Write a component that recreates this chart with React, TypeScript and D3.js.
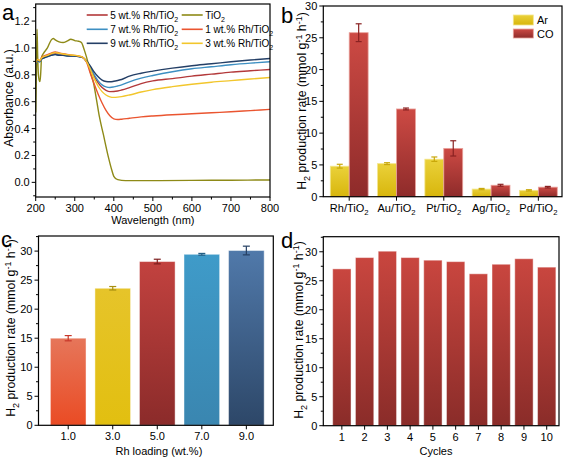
import React from "react";
import * as d3 from "d3";

// ---------- Panel a data ----------
const wavelengths = [200,205,210,215,220,230,240,250,260,270,280,290,300,310,320,330,340,350,360,370,380,390,400,410,420,440,470,500,550,600,650,700,750,800];
const rh9 = [0.89,0.91,0.90,0.92,0.925,0.935,0.945,0.95,0.945,0.945,0.94,0.94,0.94,0.935,0.93,0.905,0.865,0.82,0.785,0.76,0.75,0.748,0.752,0.758,0.765,0.79,0.812,0.828,0.85,0.868,0.882,0.897,0.91,0.922];
const rh7 = [0.88,0.905,0.895,0.915,0.925,0.935,0.945,0.952,0.947,0.945,0.942,0.94,0.94,0.935,0.93,0.90,0.855,0.80,0.755,0.725,0.71,0.706,0.71,0.717,0.725,0.748,0.775,0.795,0.823,0.845,0.86,0.875,0.887,0.897];
const rh5 = [0.885,0.91,0.9,0.92,0.93,0.94,0.95,0.958,0.952,0.948,0.945,0.943,0.942,0.937,0.93,0.90,0.85,0.79,0.74,0.705,0.685,0.675,0.676,0.68,0.687,0.705,0.735,0.755,0.772,0.79,0.805,0.82,0.83,0.84];
const rh3 = [0.89,0.915,0.905,0.925,0.935,0.945,0.958,0.965,0.96,0.955,0.95,0.948,0.945,0.94,0.932,0.90,0.84,0.77,0.715,0.675,0.65,0.636,0.632,0.634,0.638,0.65,0.672,0.69,0.712,0.73,0.745,0.757,0.769,0.78];
const rh1 = [0.89,0.915,0.905,0.93,0.94,0.95,0.962,0.97,0.963,0.957,0.952,0.948,0.945,0.94,0.932,0.895,0.81,0.73,0.655,0.59,0.535,0.495,0.472,0.468,0.47,0.477,0.487,0.494,0.503,0.51,0.518,0.525,0.534,0.543];
const tio2Wavelengths = [200,202,203.5,205,207,209,211,213,215,220,230,240,245,250,260,270,280,290,300,310,317,325,335,340,348,356,363,373,386,395,400,410,430,500,600,700,800];
const tio2 = [0.52,0.85,1.14,0.95,0.8,0.76,0.75,0.82,0.93,0.96,1.0,1.06,1.07,1.06,1.045,1.04,1.05,1.065,1.055,1.05,1.04,0.98,0.88,0.82,0.74,0.61,0.49,0.36,0.19,0.09,0.045,0.02,0.013,0.013,0.015,0.016,0.018];
const xTicksA = [200,300,400,500,600,700,800];
const yTicksA = [0.0,0.2,0.4,0.6,0.8,1.0,1.2];

// ---------- Panel b data ----------
const metals = ["Rh","Au","Pt","Ag","Pd"];
const arValues = [4.8,5.2,5.9,1.2,1.0];
const arErrors = [0.3,0.15,0.35,0.1,0.1];
const coValues = [25.8,13.8,7.6,1.8,1.5];
const coErrors = [1.4,0.15,1.2,0.15,0.12];
const yTicksB = [0,5,10,15,20,25,30];

// ---------- Panel c data ----------
const loadings = [1,3,5,7,9];
const loadingLabels = ["1.0","3.0","5.0","7.0","9.0"];
const cValues = [15.0,23.6,28.2,29.45,30.1];
const cErrors = [0.45,0.3,0.4,0.15,0.75];
const yTicksCD = [0,5,10,15,20,25,30];

// ---------- Panel d data ----------
const cycles = [1,2,3,4,5,6,7,8,9,10];
const dValues = [27.05,29.0,30.1,29.0,28.55,28.3,26.2,27.85,28.8,27.35];

const FONT = "'Liberation Sans', Arial, Helvetica, sans-serif";

function range(a: number, b: number, s: number) {
  const out: number[] = [];
  for (let v = a; v <= b + 1e-9; v += s) out.push(+v.toFixed(4));
  return out;
}

function Box({ x0, x1, y0, y1 }: any) {
  return <rect x={x0} y={y0} width={x1 - x0} height={y1 - y0} fill="none" stroke="#000" strokeWidth={1.2} />;
}

function YAxis({ scale, x, ticks, minor, fmt }: any) {
  return (
    <g>
      {minor.map((t: number) => (
        <line key={"m" + t} x1={x - 2.5} x2={x} y1={scale(t)} y2={scale(t)} stroke="#000" strokeWidth={1} />
      ))}
      {ticks.map((t: number) => (
        <g key={t}>
          <line x1={x - 4} x2={x} y1={scale(t)} y2={scale(t)} stroke="#000" strokeWidth={1} />
          <text x={x - 6} y={scale(t)} dy="0.36em" textAnchor="end" fontSize={11}>{fmt(t)}</text>
        </g>
      ))}
    </g>
  );
}

function TiO2Label({ x, y, prefix, anchor = "middle", fs = 11 }: any) {
  return (
    <text x={x} y={y} textAnchor={anchor} fontSize={fs}>
      {prefix}TiO<tspan fontSize={fs * 0.7} dy={fs * 0.3}>2</tspan>
    </text>
  );
}

function H2Title({ x, y }: any) {
  return (
    <text transform={`translate(${x},${y}) rotate(-90)`} textAnchor="middle" fontSize={12.3}>
      H<tspan fontSize={9} dy={3.5}>2</tspan>
      <tspan dy={-3.5}> production rate (mmol g</tspan>
      <tspan fontSize={9} dy={-4.5}>-1</tspan>
      <tspan dy={4.5}> h</tspan>
      <tspan fontSize={9} dy={-4.5}>-1</tspan>
      <tspan dy={4.5}>)</tspan>
    </text>
  );
}

function Grad({ id, top, bottom }: any) {
  return (
    <linearGradient id={id} x1="0" y1="0" x2="0" y2="1">
      <stop offset="0" stopColor={top} />
      <stop offset="1" stopColor={bottom} />
    </linearGradient>
  );
}

function ErrBar({ x, yTop, yBot, w, color }: any) {
  return (
    <g stroke={color} strokeWidth={1.2}>
      <line x1={x} x2={x} y1={yTop} y2={yBot} />
      <line x1={x - w / 2} x2={x + w / 2} y1={yTop} y2={yTop} />
      <line x1={x - w / 2} x2={x + w / 2} y1={yBot} y2={yBot} />
    </g>
  );
}

function PanelA() {
  const L = 35.7, R = 270, T = 4, B = 197;
  const x = d3.scaleLinear().domain([200, 800]).range([L, R]);
  const y = d3.scaleLinear().domain([-0.109, 1.327]).range([B, T]);
  const line = d3.line<[number, number]>().x(d => x(d[0])).y(d => y(d[1])).curve(d3.curveMonotoneX);
  const series = [
    { name: "5 wt.% Rh/", vals: rh5, color: "#b3393a" },
    { name: "7 wt.% Rh/", vals: rh7, color: "#3d8fc2" },
    { name: "9 wt.% Rh/", vals: rh9, color: "#243f66" },
    { name: "1 wt.% Rh/", vals: rh1, color: "#ea5530" },
    { name: "3 wt.% Rh/", vals: rh3, color: "#f2c62c" },
  ];
  const tio2Pts = tio2Wavelengths.map((w, i) => [w, tio2[i]] as [number, number]);
  const legend = [
    { label: "5 wt.% Rh/", color: "#b3393a", col: 0, row: 0 },
    { label: "7 wt.% Rh/", color: "#3d8fc2", col: 0, row: 1 },
    { label: "9 wt.% Rh/", color: "#243f66", col: 0, row: 2 },
    { label: "", color: "#8e8a17", col: 1, row: 0 },
    { label: "1 wt.% Rh/", color: "#ea5530", col: 1, row: 1 },
    { label: "3 wt.% Rh/", color: "#f2c62c", col: 1, row: 2 },
  ];
  const colX = [86.7, 181.7];
  const rowY = [15, 29.3, 43.3];
  return (
    <g>
      <defs>
        <clipPath id="clipA"><rect x={L} y={T} width={R - L} height={B - T} /></clipPath>
      </defs>
      <g clipPath="url(#clipA)" fill="none">
        <path d={line(tio2Pts) || ""} stroke="#8e8a17" strokeWidth={1.4} />
        {series.map(s => (
          <path key={s.name + s.color} d={line(wavelengths.map((w, i) => [w, s.vals[i]] as [number, number])) || ""} stroke={s.color} strokeWidth={1.4} />
        ))}
      </g>
      {legend.map((l, i) => (
        <g key={i}>
          <line x1={colX[l.col]} x2={colX[l.col] + 21} y1={rowY[l.row]} y2={rowY[l.row]} stroke={l.color} strokeWidth={1.6} />
          <TiO2Label x={colX[l.col] + 23.5} y={rowY[l.row] + 3.6} prefix={l.label} anchor="start" fs={10} />
        </g>
      ))}
      <Box x0={L} x1={R} y0={T} y1={B} />
      {range(250, 750, 100).map(t => (
        <line key={"xm" + t} x1={x(t)} x2={x(t)} y1={B} y2={B + 2.5} stroke="#000" />
      ))}
      {xTicksA.map(t => (
        <g key={t}>
          <line x1={x(t)} x2={x(t)} y1={B} y2={B + 4} stroke="#000" />
          <text x={x(t)} y={B + 15} textAnchor="middle" fontSize={11}>{t}</text>
        </g>
      ))}
      <YAxis scale={y} x={L} ticks={yTicksA} minor={range(-0.1, 1.3, 0.1).filter(v => Math.round(v * 10) % 2 !== 0)} fmt={(t: number) => t.toFixed(1)} />
      <text x={(L + R) / 2} y={224} textAnchor="middle" fontSize={11}>Wavelength (nm)</text>
      <text transform={`translate(12.5,98) rotate(-90)`} textAnchor="middle" fontSize={12.3}>Absorbance (a.u.)</text>
      <text x={2} y={19.5} fontSize={22}>a</text>
    </g>
  );
}

function PanelB() {
  const L = 323.3, R = 562, T = 6, B = 196.7;
  const x = d3.scaleLinear().domain([-0.548, 4.5]).range([L, R]);
  const y = d3.scaleLinear().domain([0, 30]).range([B, T]);
  const bw = 0.4;
  return (
    <g>
      <defs>
        <Grad id="gAr" top="#ead13a" bottom="#d8b60c" />
        <Grad id="gCO" top="#cd4a44" bottom="#8e2b2a" />
      </defs>
      {metals.map((m, i) => (
        <g key={m}>
          <rect x={x(i - bw)} y={y(arValues[i])} width={x(i) - x(i - bw)} height={y(0) - y(arValues[i])} fill="url(#gAr)" stroke="#f3e58c" strokeWidth={0.8} />
          <rect x={x(i)} y={y(coValues[i])} width={x(i + bw) - x(i)} height={y(0) - y(coValues[i])} fill="url(#gCO)" stroke="#e9a09a" strokeWidth={0.8} />
          <ErrBar x={x(i - bw / 2)} yTop={y(arValues[i] + arErrors[i])} yBot={y(arValues[i] - arErrors[i])} w={6} color="#c9a80a" />
          <ErrBar x={x(i + bw / 2)} yTop={y(coValues[i] + coErrors[i])} yBot={y(coValues[i] - coErrors[i])} w={6} color="#8a2222" />
        </g>
      ))}
      <Box x0={L} x1={R} y0={T} y1={B} />
      {metals.map((m, i) => (
        <g key={"t" + m}>
          <line x1={x(i)} x2={x(i)} y1={B} y2={B + 4} stroke="#000" />
          <TiO2Label x={x(i)} y={B + 15} prefix={m + "/"} fs={11} />
        </g>
      ))}
      <YAxis scale={y} x={L} ticks={yTicksB} minor={range(2.5, 27.5, 5)} fmt={(t: number) => String(t)} />
      <H2Title x={306} y={101} />
      <rect x={513.3} y={15} width={20} height={10} fill="url(#gAr)" stroke="#f3e58c" strokeWidth={0.8} />
      <text x={537} y={24} fontSize={11}>Ar</text>
      <rect x={513.3} y={29} width={20} height={9} fill="url(#gCO)" stroke="#e9a09a" strokeWidth={0.8} />
      <text x={537} y={37.5} fontSize={11}>CO</text>
      <text x={281} y={23} fontSize={22}>b</text>
    </g>
  );
}

function PanelC() {
  const L = 38.5, R = 273.3, T = 236, B = 425.3;
  const x = d3.scaleLinear().domain([-0.334, 10.21]).range([L, R]);
  const y = d3.scaleLinear().domain([0, 32.6]).range([B, T]);
  const grads = [
    { id: "gc1", top: "#e6765a", bottom: "#ea4b24", err: "#c8372a" },
    { id: "gc3", top: "#e6c42a", bottom: "#e2bf10", err: "#a88f10" },
    { id: "gc5", top: "#c2423f", bottom: "#8b2b2a", err: "#7d1f1f" },
    { id: "gc7", top: "#3f9bc9", bottom: "#3a86b0", err: "#245f85" },
    { id: "gc9", top: "#5079aa", bottom: "#2d4768", err: "#243e62" },
  ];
  const hw = 0.8;
  return (
    <g>
      <defs>{grads.map(g => <Grad key={g.id} id={g.id} top={g.top} bottom={g.bottom} />)}</defs>
      {loadings.map((v, i) => (
        <g key={v}>
          <rect x={x(v - hw)} y={y(cValues[i])} width={x(v + hw) - x(v - hw)} height={y(0) - y(cValues[i])} fill={`url(#${grads[i].id})`} stroke="#ffffff" strokeOpacity={0.45} strokeWidth={1} />
          <ErrBar x={x(v)} yTop={y(cValues[i] + cErrors[i])} yBot={y(cValues[i] - cErrors[i])} w={7} color={grads[i].err} />
        </g>
      ))}
      <Box x0={L} x1={R} y0={T} y1={B} />
      {loadings.map((v, i) => (
        <g key={"t" + v}>
          <line x1={x(v)} x2={x(v)} y1={B} y2={B + 4} stroke="#000" />
          <text x={x(v)} y={B + 15} textAnchor="middle" fontSize={11}>{loadingLabels[i]}</text>
        </g>
      ))}
      <YAxis scale={y} x={L} ticks={yTicksCD} minor={range(2.5, 32.5, 5)} fmt={(t: number) => String(t)} />
      <text x={(L + R) / 2 + 3} y={455} textAnchor="middle" fontSize={11}>Rh loading (wt.%)</text>
      <H2Title x={15} y={328} />
      <text x={1} y={247} fontSize={22}>c</text>
    </g>
  );
}

function PanelD() {
  const L = 323.3, R = 559, T = 236.7, B = 425.7;
  const x = d3.scaleLinear().domain([0.185, 10.54]).range([L, R]);
  const y = d3.scaleLinear().domain([0, 32.6]).range([B, T]);
  const hw = 0.403;
  return (
    <g>
      <defs><Grad id="gd" top="#c9463f" bottom="#8a2c29" /></defs>
      {cycles.map((c, i) => (
        <rect key={c} x={x(c - hw)} y={y(dValues[i])} width={x(c + hw) - x(c - hw)} height={y(0) - y(dValues[i])} fill="url(#gd)" stroke="#ffffff" strokeOpacity={0.45} strokeWidth={1} />
      ))}
      <Box x0={L} x1={R} y0={T} y1={B} />
      {cycles.map(c => (
        <g key={"t" + c}>
          <line x1={x(c)} x2={x(c)} y1={B} y2={B + 4} stroke="#000" />
          <text x={x(c)} y={B + 15} textAnchor="middle" fontSize={11}>{c}</text>
        </g>
      ))}
      <YAxis scale={y} x={L} ticks={yTicksCD} minor={range(2.5, 32.5, 5)} fmt={(t: number) => String(t)} />
      <text x={436} y={455} textAnchor="middle" fontSize={11}>Cycles</text>
      <H2Title x={303} y={330} />
      <text x={281} y={248} fontSize={22}>d</text>
    </g>
  );
}

export default function App() {
  return (
    <svg width={567} height={461} viewBox="0 0 567 461" style={{ position: "absolute", left: 0, top: 0, background: "#fff" }} fontFamily={FONT}>
      <rect x={0} y={0} width={567} height={461} fill="#fff" />
      <PanelA />
      <PanelB />
      <PanelC />
      <PanelD />
    </svg>
  );
}
